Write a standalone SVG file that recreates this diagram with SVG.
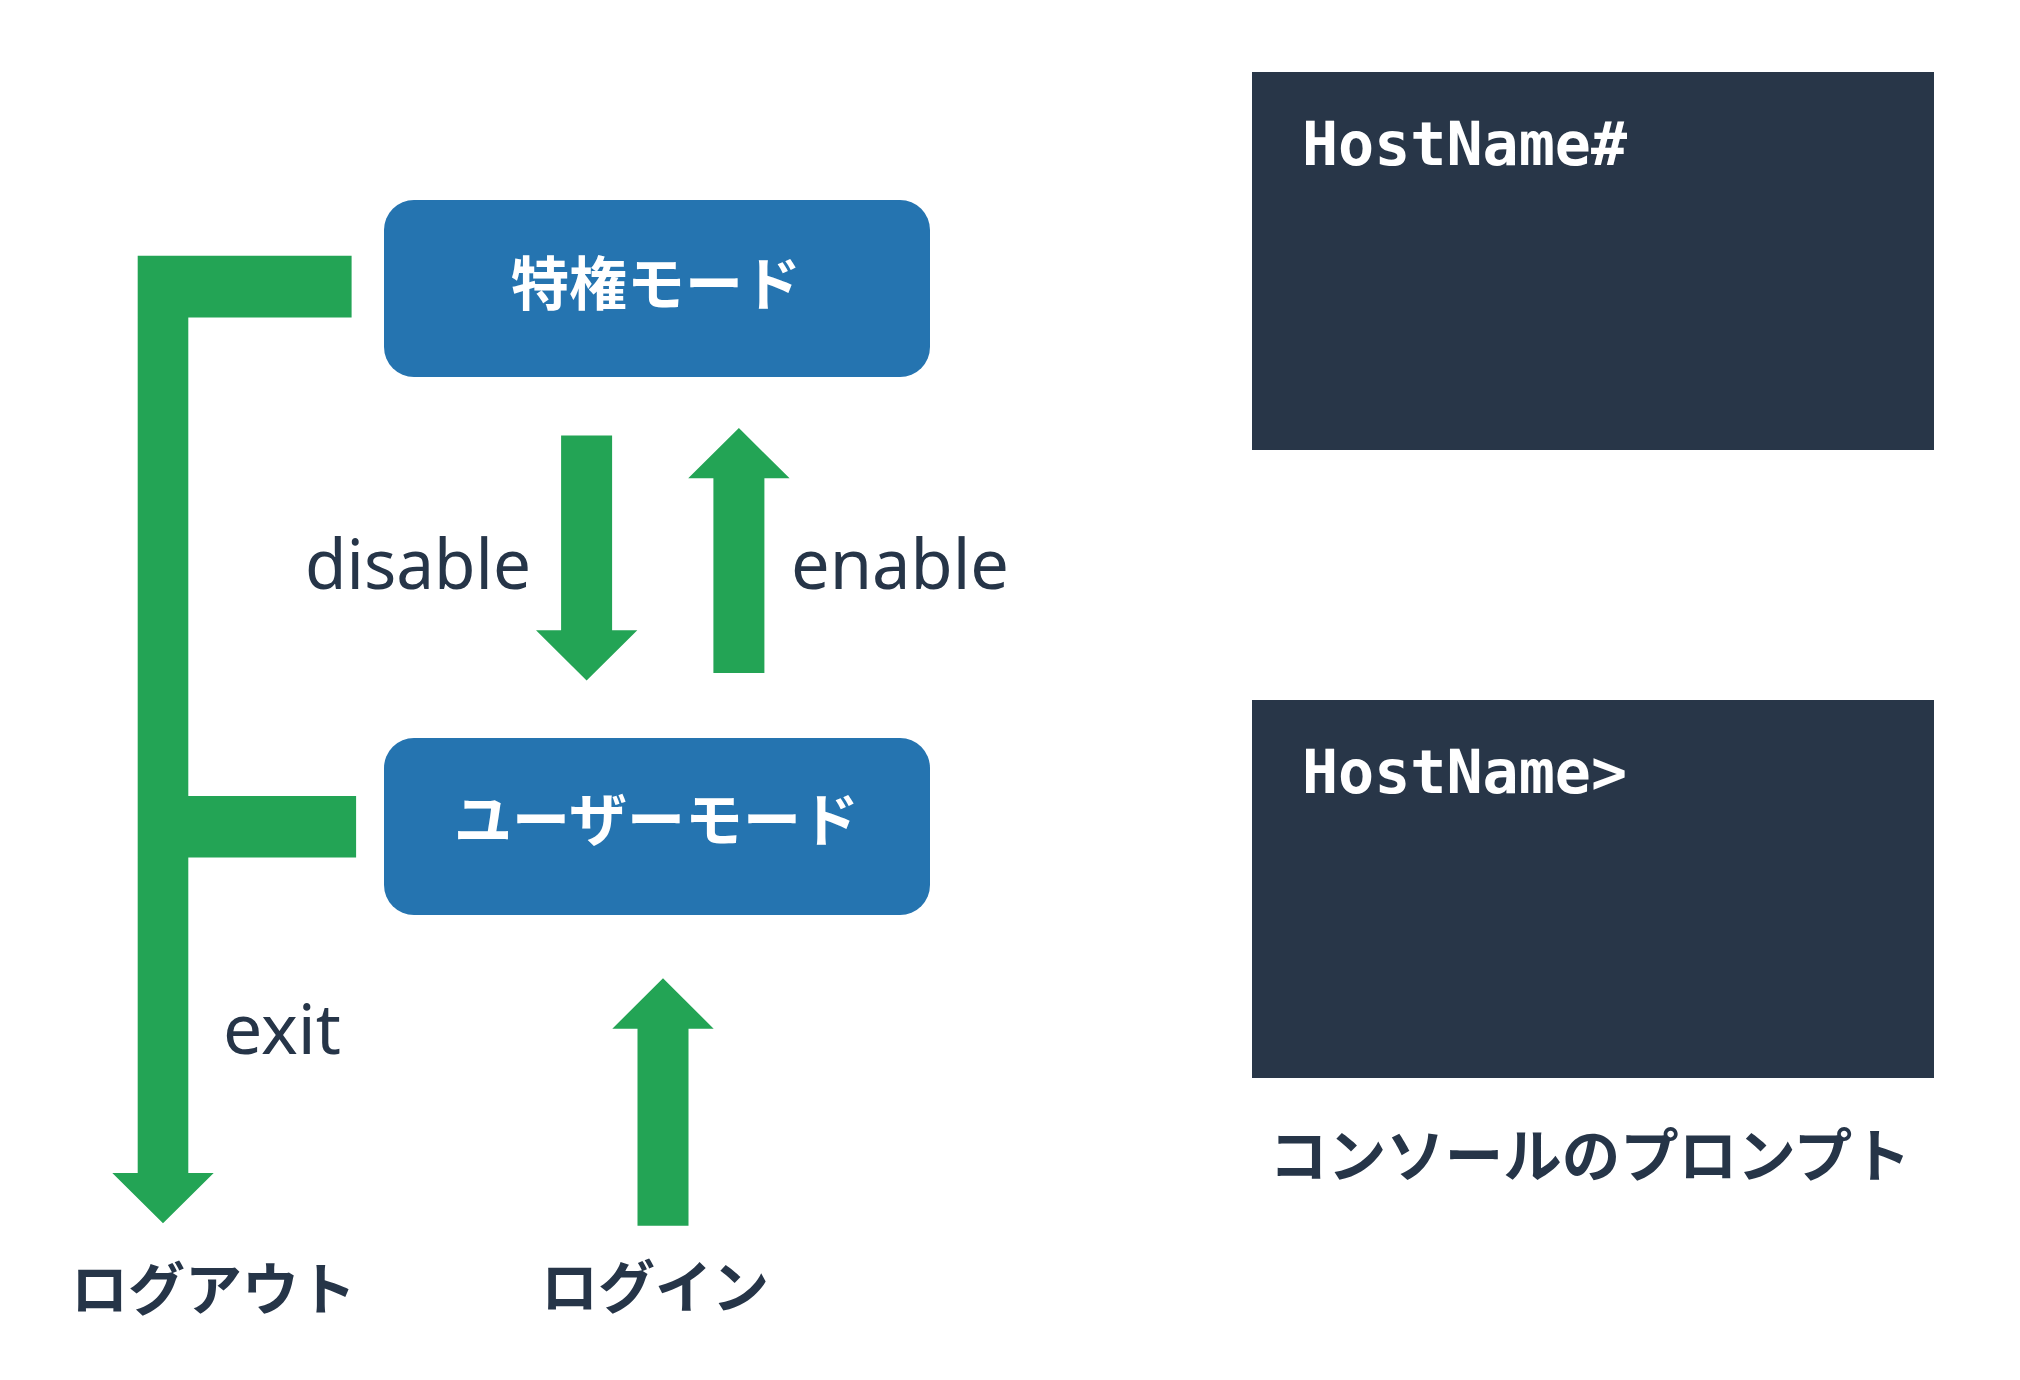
<svg xmlns="http://www.w3.org/2000/svg" width="2020" height="1380" viewBox="0 0 2020 1380">
<style>
.mode{fill:#2574B0}
.mode-label{font-family:"Noto Sans CJK JP","Noto Sans",sans-serif;font-weight:700;font-size:58px;fill:#ffffff;text-anchor:middle;dominant-baseline:central}
.arrow{fill:#23A455}
.cmd{font-family:"Noto Sans","Open Sans",sans-serif;font-size:70px;fill:#263548}
.jp{font-family:"Noto Sans CJK JP","Noto Sans",sans-serif;font-weight:700;font-size:57px;fill:#263548;text-anchor:middle;dominant-baseline:central}
.console{fill:#283648}
.prompt{font-family:"DejaVu Sans Mono","Liberation Mono",monospace;font-weight:700;font-size:60px;fill:#ffffff}
</style>
<rect width="2020" height="1380" fill="#ffffff"/>
<g id="connectors">
<path id="exit-arrow" class="arrow" d="M137.7,255.8 H351.6 V317.4 H188.3 V795.9 H356.1 V857.5 H188.3 V1173 H213.7 L163,1223.3 L112.3,1173 H137.7 Z"/>
<path id="disable-arrow" class="arrow" d="M561.1,435.6 H612.1 V630.3 H637.3 L586.6,680.5 L536,630.3 H561.1 Z"/>
<path id="enable-arrow" class="arrow" d="M713.4,673 H764.4 V478.3 H789.6 L738.9,428 L688.2,478.3 H713.4 Z"/>
<path id="login-arrow" class="arrow" d="M637.5,1225.7 H688.5 V1028.7 H713.7 L663,978.3 L612.3,1028.7 H637.5 Z"/>
<text class="cmd" x="305" y="589" textLength="226" lengthAdjust="spacingAndGlyphs">disable</text>
<text class="cmd" x="791" y="589" textLength="218" lengthAdjust="spacingAndGlyphs">enable</text>
<text class="cmd" x="223" y="1054" textLength="118" lengthAdjust="spacingAndGlyphs">exit</text>
</g>
<g id="privileged-mode">
<rect class="mode" x="384" y="200" width="546" height="177" rx="30" ry="30"/>
<text class="mode-label" x="656" y="280">特権モード</text>
</g>
<g id="user-mode">
<rect class="mode" x="384" y="738" width="546" height="177" rx="30" ry="30"/>
<text class="mode-label" x="656.5" y="816">ユーザーモード</text>
</g>
<g id="logout">
<text class="jp" x="213.5" y="1285">ログアウト</text>
</g>
<g id="login">
<text class="jp" x="655" y="1283">ログイン</text>
</g>
<g id="console-privileged">
<rect class="console" x="1252" y="72" width="682" height="378"/>
<text class="prompt" x="1302" y="165">HostName#</text>
</g>
<g id="console-user">
<rect class="console" x="1252" y="700" width="682" height="378"/>
<text class="prompt" x="1302" y="793">HostName&gt;</text>
</g>
<g id="console-caption">
<text class="jp" x="1590" y="1151" style="font-size:58.5px">コンソールのプロンプト</text>
</g>
</svg>
